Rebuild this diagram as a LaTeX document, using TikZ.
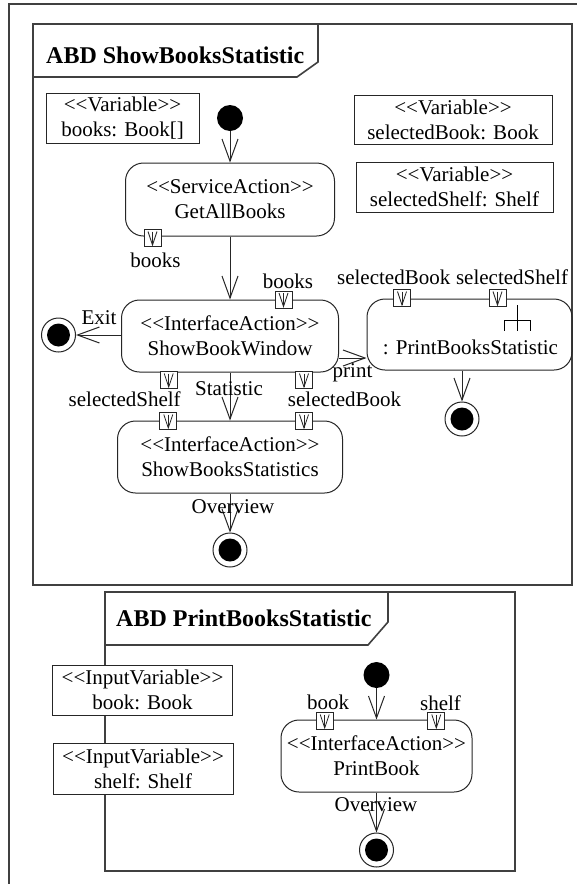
\documentclass[tikz,border=0pt]{standalone}
\usepackage{fontspec}
\setmainfont{Liberation Serif}
\usetikzlibrary{arrows.meta}
\newcommand{\stl}{<{}<}
\newcommand{\stg}{>{}>}
\begin{document}
\begin{tikzpicture}[x=1pt,y=-1pt,
  every node/.style={font=\fontsize{21}{25}\selectfont},
  frame/.style={draw=black!75, line width=1.6pt},
  act/.style={draw=black!85, rounded corners=18pt, line width=1pt, inner sep=0pt, align=center},
  var/.style={draw=black!85, fill=white, line width=1pt, inner sep=0pt, align=center},
  lbl/.style={inner sep=0pt},
  ttl/.style={font=\fontsize{24}{28}\selectfont\bfseries, inner sep=0pt, anchor=west},
  pinbox/.style={draw=black!85, fill=white, line width=0.8pt, minimum width=17pt, minimum height=17pt, inner sep=0pt,
    path picture={
      \draw[line width=0.8pt] ([yshift=-2pt]path picture bounding box.north) -- ([yshift=1.5pt]path picture bounding box.south);
      \draw[line width=0.8pt] ([xshift=-4.5pt,yshift=-2pt]path picture bounding box.north) -- ([yshift=1.5pt]path picture bounding box.south) -- ([xshift=4.5pt,yshift=-2pt]path picture bounding box.north);
    }},
  initn/.style={circle, fill=black, minimum size=26pt, inner sep=0pt},
  finaln/.style={circle, draw=black!85, line width=1pt, minimum size=34pt, inner sep=0pt,
    path picture={\fill[black] (path picture bounding box.center) circle (11.5pt);}},
  arr/.style={-{Straight Barb[length=22pt,width=16pt]}, line width=1pt, draw=black!85},
]
\useasboundingbox (0,0) rectangle (577,884);
\fill[white] (0,0) rectangle (577,884);

% outer frame
\draw[frame] (9,884) -- (9,4) -- (577,4);

% frame 1
\draw[frame] (33,24) rectangle (572,585);
\draw[frame] (33,77) -- (297,77) -- (318,62) -- (318,24);
\node[ttl] (t1) at (46,55) {ABD ShowBooksStatistic};

% variables
\node[var, minimum width=153pt, minimum height=50pt] (vbooks) at (122.5,118) {\stl Variable\stg\\books: Book[]};
\node[var, minimum width=198pt, minimum height=49pt] (vselbook) at (453,119.5) {\stl Variable\stg\\selectedBook: Book};
\node[var, minimum width=197pt, minimum height=50pt] (vselshelf) at (454.5,187) {\stl Variable\stg\\selectedShelf: Shelf};

% nodes
\node[initn] (init1) at (230,118) {};
\node[act, minimum width=209pt, minimum height=73pt] (gab) at (230,199.5) {\stl ServiceAction\stg\\GetAllBooks};
\node[act, minimum width=217pt, minimum height=72pt] (sbw) at (230,336) {\stl InterfaceAction\stg\\ShowBookWindow};
\node[act, minimum width=205pt, minimum height=71pt] (pbs) at (469.5,334.5) {};
\node[lbl] (pbstxt) at (470.5,347) {: PrintBooksStatistic};
\node[act, minimum width=225pt, minimum height=72pt] (sbs) at (230,457) {\stl InterfaceAction\stg\\ShowBooksStatistics};
\node[finaln] (exitf) at (58.5,335) {};
\node[finaln] (pbsf) at (462,419) {};
\node[finaln] (ovf) at (230,550) {};

% rake symbol
\draw[line width=1pt] (504,320) -- (530,320) (504,320) -- (504,331) (530,320) -- (530,331) (517,305) -- (517,331);

% edges
\draw[arr] (init1) -- (gab);
\draw[arr] (gab) -- (sbw);
\draw[arr] (sbw.west |- exitf) -- (exitf);
\draw[arr] ([yshift=-22pt]sbw.east) -- ([yshift=-22pt]sbw.east -| pbs.west);
\draw[arr] (pbsf |- pbs.south) -- (pbsf);
\draw[arr] (sbw) -- (sbs);
\draw[arr] (sbs) -- (ovf);

% pins
\node[pinbox] (pgab) at (152.5,238) {};
\node[pinbox] (psbwb) at (283.5,299.5) {};
\node[pinbox] (psbwsh) at (168.7,380) {};
\node[pinbox] (psbwbk) at (304,380) {};
\node[pinbox] (ppbsbk) at (402,298) {};
\node[pinbox] (ppbssh) at (497.5,298) {};
\node[pinbox] (psbssh) at (168.3,421) {};
\node[pinbox] (psbsbk) at (304,421) {};

% labels
\node[lbl] (lgab) at (155.5,260) {books};
\node[lbl] (lsbwb) at (288,281) {books};
\node[lbl] (lsbwsh) at (124.7,399) {selectedShelf};
\node[lbl] (lstat) at (229,389) {Statistic};
\node[lbl] (lsbwbk) at (344.5,399) {selectedBook};
\node[lbl] (lprint) at (352.5,373) {print};
\node[lbl] (lexit) at (99,318) {Exit};
\node[lbl] (lpbsbk) at (393.7,277) {selectedBook};
\node[lbl] (lpbssh) at (512,277) {selectedShelf};
\node[lbl] (lov1) at (233,507) {Overview};

% frame 2
\draw[frame] (105,592) rectangle (515,871);
\draw[frame] (105,645) -- (368,645) -- (388,622) -- (388,592);
\node[ttl] (t2) at (116,618) {ABD PrintBooksStatistic};

\node[var, minimum width=180pt, minimum height=50pt] (ibook) at (142.5,690) {\stl InputVariable\stg\\book: Book};
\node[var, minimum width=180pt, minimum height=51pt] (ishelf) at (143,768.5) {\stl InputVariable\stg\\shelf: Shelf};

\node[initn] (init2) at (376.5,675) {};
\node[act, minimum width=191pt, minimum height=72pt] (pb) at (376.5,756) {\stl InterfaceAction\stg\\PrintBook};
\node[finaln] (f2) at (376.5,850) {};
\draw[arr] (init2) -- (pb);
\draw[arr] (pb) -- (f2);

\node[pinbox] (ppbbk) at (324.7,721) {};
\node[pinbox] (ppbsh) at (436.3,721) {};
\node[lbl] (lbook) at (328,702.7) {book};
\node[lbl] (lshelf) at (440.5,702.7) {shelf};
\node[lbl] (lov2) at (376,805) {Overview};
\end{tikzpicture}
\end{document}
